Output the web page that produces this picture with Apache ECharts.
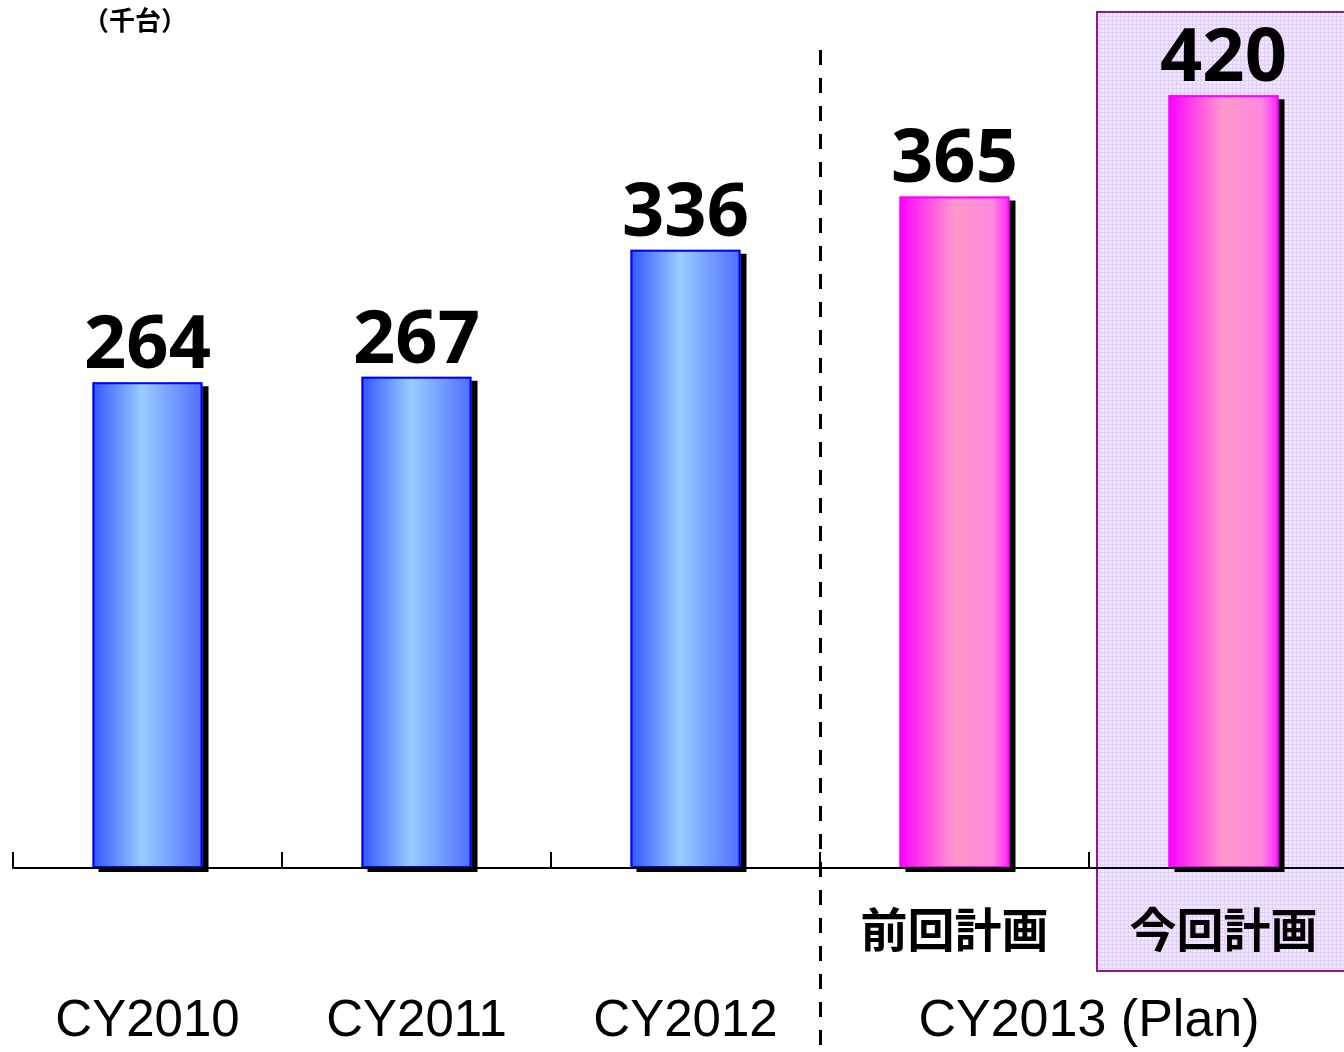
<!DOCTYPE html>
<html>
<head>
<meta charset="utf-8">
<title>CY2010-2013</title>
<script src="https://cdn.jsdelivr.net/npm/echarts@6/dist/echarts.min.js"></script>
<style>
  html, body { margin: 0; padding: 0; background: #fff; }
  #chart { width: 1344px; height: 1052px; }
</style>
</head>
<body>
<div id="chart"></div>
<script>
// data
var categories = ["CY2010", "CY2011", "CY2012", "CY2013a", "CY2013b"];
var planLabels = ["", "", "", "前回計画", "今回計画"];
var yearLabels = ["CY2010", "CY2011", "CY2012", "CY2013 (Plan)", ""];
var values = [264, 267, 336, 365, 420];
var isPlan = [false, false, false, true, true];
var dividerAt = [3]; // boundary before the CY2013 group, in category units
var unitLabel = "（千台）";

var blueFill = new echarts.graphic.LinearGradient(0, 0, 1, 0, [
  { offset: 0, color: "#3355ff" },
  { offset: 0.45, color: "#99ccff" },
  { offset: 1, color: "#4f6fff" }
]);
var pinkFill = new echarts.graphic.LinearGradient(0, 0, 1, 0, [
  { offset: 0, color: "#ff00ff" },
  { offset: 0.5, color: "#ff99cc" },
  { offset: 0.85, color: "#ff88dd" },
  { offset: 1, color: "#ff22ff" }
]);

// small dotted lavender pattern for the highlight box
function makePattern() {
  var c = document.createElement("canvas");
  c.width = 4;
  c.height = 4;
  var ctx = c.getContext("2d");
  ctx.fillStyle = "#f1e6ff";
  ctx.fillRect(0, 0, 4, 4);
  ctx.fillStyle = "#e2cff9";
  ctx.fillRect(0, 0, 4, 1);
  ctx.fillRect(0, 0, 1, 4);
  return c;
}

var chart = echarts.init(document.getElementById("chart"));

var fillData = values.map(function (v, i) {
  return { value: v, itemStyle: { color: isPlan[i] ? pinkFill : blueFill } };
});
var edgeData = values.map(function (v, i) {
  return { value: v, itemStyle: { borderColor: isPlan[i] ? "#ff00ff" : "#0000ff" } };
});

chart.setOption({
  animation: false,
  title: {
    text: unitLabel,
    left: 78,
    top: 2,
    textStyle: {
      fontFamily: "Noto Sans CJK JP",
      fontSize: 26,
      fontWeight: "bold",
      color: "#000"
    }
  },
  graphic: [
    {
      type: "rect",
      z: -1,
      shape: { x: 1097, y: 12, width: 270, height: 959 },
      style: {
        fill: { image: makePattern(), repeat: "repeat" },
        stroke: "#8e1a8e",
        lineWidth: 2
      }
    }
  ],
  grid: [
    { left: 13, width: 1345, top: 40, bottom: 184, outerBoundsMode: "none", containLabel: false },
    { left: 13, width: 1345, top: 47, bottom: 7, outerBoundsMode: "none", containLabel: false }
  ],
  xAxis: [
    {
      type: "category",
      gridIndex: 0,
      data: categories,
      z: 5,
      axisLine: { show: true, lineStyle: { color: "#000", width: 2 } },
      axisTick: {
        show: true,
        interval: 0,
        alignWithLabel: false,
        inside: true,
        length: 16,
        lineStyle: { color: "#000", width: 2 }
      },
      axisLabel: {
        interval: 0,
        margin: 38,
        fontFamily: "Noto Sans CJK JP",
        fontSize: 47,
        fontWeight: "bold",
        color: "#000",
        formatter: function (v, i) {
          return planLabels[i];
        }
      }
    },
    {
      type: "category",
      gridIndex: 0,
      position: "bottom",
      data: categories,
      axisLine: { show: false },
      axisTick: { show: false },
      axisLabel: {
        interval: 0,
        margin: 128,
        fontFamily: "Liberation Sans",
        fontSize: 51,
        color: "#000",
        formatter: function (v, i) {
          var t = yearLabels[i];
          return t.indexOf("Plan") > -1 ? "{plan|" + t + "}" : t;
        },
        rich: {
          plan: {
            fontFamily: "Liberation Sans",
            fontSize: 52,
            color: "#000",
            padding: [0, 0, 0, 269]
          }
        }
      }
    },
    {
      type: "value",
      gridIndex: 1,
      min: 0,
      max: categories.length,
      show: false
    }
  ],
  yAxis: [
    { type: "value", gridIndex: 0, min: 0, max: 450, show: false },
    { type: "value", gridIndex: 1, min: 0, max: 1, show: false }
  ],
  series: [
    {
      // fill with drop shadow
      type: "bar",
      xAxisIndex: 0,
      yAxisIndex: 0,
      barWidth: 110,
      data: fillData,
      itemStyle: {
        borderWidth: 0,
        shadowColor: "#000",
        shadowBlur: 0,
        shadowOffsetX: 6,
        shadowOffsetY: 4
      },
      label: {
        show: true,
        position: "top",
        distance: -2,
        fontFamily: "Noto Sans",
        fontSize: 74,
        fontWeight: "bold",
        color: "#000"
      }
    },
    {
      // thin coloured outline on top, no shadow
      type: "bar",
      xAxisIndex: 0,
      yAxisIndex: 0,
      barWidth: 110,
      barGap: "-100%",
      data: edgeData,
      itemStyle: { color: "transparent", borderWidth: 2 },
      silent: true
    },
    {
      // dashed divider between actual and plan years
      type: "line",
      xAxisIndex: 2,
      yAxisIndex: 1,
      data: [],
      markLine: {
        silent: true,
        symbol: "none",
        label: { show: false },
        lineStyle: { color: "#000", width: 3, type: [15, 13] },
        data: dividerAt.map(function (d) { return { xAxis: d }; })
      }
    }
  ]
});
</script>
</body>
</html>
